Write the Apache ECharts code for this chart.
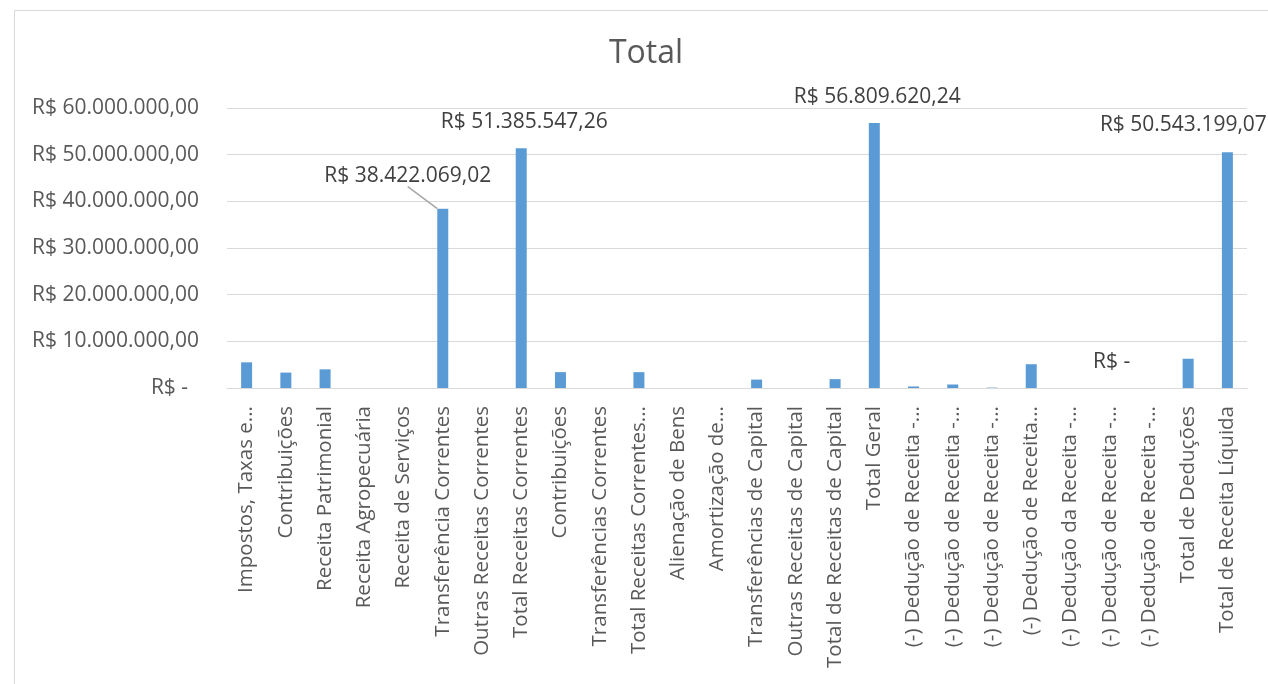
<!DOCTYPE html>
<html>
<head>
<meta charset="utf-8">
<script src="https://cdn.jsdelivr.net/npm/echarts@6/dist/echarts.min.js"></script>
<style>html,body{margin:0;padding:0;background:#fff}#c{width:1268px;height:684px}</style>
</head>
<body>
<div id="c"></div>
<script>
const categories = [
  "Impostos, Taxas e...", "Contribuições", "Receita Patrimonial", "Receita Agropecuária",
  "Receita de Serviços", "Transferência Correntes", "Outras Receitas Correntes", "Total Receitas Correntes",
  "Contribuições", "Transferências Correntes", "Total Receitas Correntes...", "Alienação de Bens",
  "Amortização de...", "Transferências de Capital", "Outras Receitas de Capital", "Total de Receitas de Capital",
  "Total Geral", "(-) Dedução de Receita -...", "(-) Dedução de Receita -...", "(-) Dedução de Receita -...",
  "(-) Dedução de Receita...", "(-) Dedução da Receita -...", "(-) Dedução de Receita -...", "(-) Dedução de Receita -...",
  "Total de Deduções", "Total de Receita Líquida"
];
const values = [
  5500000, 3300000, 4000000, 0,
  0, 38422069.02, 0, 51385547.26,
  3400000, 0, 3400000, 0,
  0, 1800000, 0, 1900000,
  56809620.24, 330000, 750000, 80000,
  5100000, 0, 0, 0,
  6266421.17, 50543199.07
];
// indices whose value labels are shown in the reference
const labelled = [5, 7, 16, 22, 25];
const yTicks = [0, 10000000, 20000000, 30000000, 40000000, 50000000, 60000000];

function brl(v) {
  if (!v) return 'R$ -';
  const neg = v < 0; v = Math.abs(v);
  let [i, d] = v.toFixed(2).split('.');
  i = i.replace(/\B(?=(\d{3})+(?!\d))/g, '.');
  return (neg ? '-' : '') + 'R$ ' + i + ',' + d;
}

const labelOffsets = {5: [-35, -17], 7: [3, -11], 16: [3, -10], 22: [2, -10], 25: [-44, -12]};

const chart = echarts.init(document.getElementById('c'), null, {renderer: 'canvas'});
const FONT = 'Open Sans';
chart.setOption({
  backgroundColor: '#ffffff',
  animation: false,
  title: {
    text: 'Total', left: 641, top: 33, textAlign: 'center',
    textStyle: {fontFamily: FONT, fontSize: 32, fontWeight: 'normal', color: '#595959'}
  },
  graphic: [{
    type: 'rect', left: 12, top: 8, shape: {x: 0, y: 0, width: 1300, height: 720},
    style: {fill: 'none', stroke: '#D9D9D9', lineWidth: 1}, silent: true, z: -1
  }],
  grid: {left: 227, right: 21, top: 108, bottom: 296, containLabel: false},
  xAxis: {
    type: 'category', data: categories,
    axisLine: {show: true, lineStyle: {color: '#D9D9D9', width: 1}},
    axisTick: {show: false},
    axisLabel: {rotate: 90, interval: 0, margin: 18, fontFamily: FONT, fontSize: 20.5, color: '#595959'}
  },
  yAxis: {
    type: 'value', min: yTicks[0], max: yTicks[yTicks.length - 1], interval: yTicks[1] - yTicks[0],
    axisLine: {show: false}, axisTick: {show: false},
    splitLine: {lineStyle: {color: '#D9D9D9', width: 1}},
    axisLabel: {
      margin: 28, fontFamily: FONT, fontSize: 21, color: '#595959',
      formatter: v => v === 0 ? 'R$ -\u00A0\u00A0' : brl(v)
    }
  },
  series: [{
    type: 'bar', barWidth: 11,
    itemStyle: {color: '#5B9BD5'},
    data: values.map((v, i) => {
      const item = {value: v};
      if (labelled.indexOf(i) >= 0) {
        item.label = {
          show: true, position: 'top', distance: 5,
          fontFamily: FONT, fontSize: 21, color: '#404040',
          formatter: p => brl(p.value)
        };
        if (i === 5) item.labelLine = {show: true, lineStyle: {color: '#A6A6A6', width: 1.5}};
      }
      return item;
    }),
    labelLayout: function (params) {
      const o = labelOffsets[params.dataIndex];
      return o ? {dx: o[0], dy: o[1]} : {};
    },
    labelLine: {show: false}
  }]
});
</script>
</body>
</html>
